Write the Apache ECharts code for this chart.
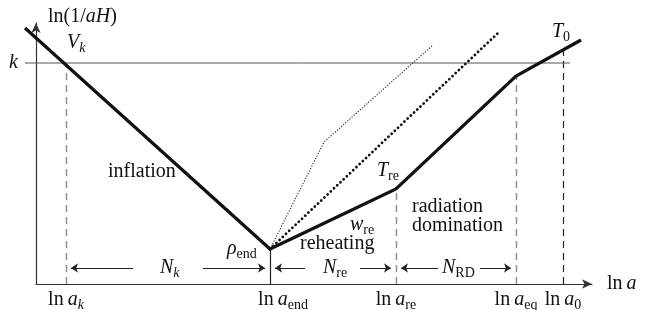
<!DOCTYPE html>
<html>
<head>
<meta charset="utf-8">
<script src="https://cdn.jsdelivr.net/npm/echarts@6/dist/echarts.min.js"></script>
<style>
  html, body { margin: 0; padding: 0; background: #fff; }
  #chart { width: 646px; height: 310px; }
</style>
</head>
<body>
<div id="chart"></div>
<script>
// schematic units (arbitrary e-folds)
const mainX = [-1.1, 23.4, 36.0, 48.0, 54.5];
const mainY = [25.6, 3.5, 9.5, 20.8, 24.4];
const stiffX = [23.4, 46.2];
const stiffY = [3.5, 25.1];
const thinX = [23.4, 28.8, 39.7];
const thinY = [3.5, 14.2, 23.9];
const kLevel = 22.1;
const kSpan = [-1.1, 53.4];

const tickX = [3.0, 23.4, 36.0, 48.0, 52.7];
const tickLabels = [
  '{n|ln\u2009}{i|a}{si|k}',
  '{pe|ln\u2009}{i|a}{s|end}',
  '{n|ln\u2009}{i|a}{s|re}',
  '{n|ln\u2009}{i|a}{s|eq}',
  '{n|ln\u2009}{i|a}{s|0}'
];
const dropTop = [22.1, 3.5, 9.5, 20.8, 23.4];

const spanFrom = [3.0, 23.4, 36.0];
const spanTo = [23.4, 36.0, 48.0];
const gapLeft = [9.7, 26.9, 40.2];
const gapRight = [16.7, 32.4, 44.4];
const spanY = 1.6;

const noteText = [
  '{n|ln(1/}{i|aH}{n|)}',
  '{i|V}{si|k}',
  '{n|inflation}',
  '{i|ρ}{s|end}',
  '{n|reheating}',
  '{i|w}{s|re}',
  '{i|T}{s|re}',
  '{n|radiation}',
  '{n|domination}',
  '{i|T}{s|0}',
  '{i|N}{si|k}',
  '{i|N}{s|re}',
  '{i|N}{s|RD}',
  '{n|ln\u2009}{i|a}'
];
const noteX = [1.2, 3.1, 7.2, 19.1, 26.4, 31.4, 34.1, 37.6, 37.6, 51.6, 12.4, 28.7, 40.6, 57.1];
const noteY = [26.7, 24.1, 11.2, 3.5, 4.0, 5.9, 11.3, 7.7, 5.8, 25.2, 1.6, 1.6, 1.6, 0];

const FONT = 'Liberation Serif';
const INK = '#111';
const rich = {
  n: { fontFamily: FONT, fontSize: 20, lineHeight: 24, color: INK },
  pe: { fontFamily: FONT, fontSize: 20, lineHeight: 24, color: INK, padding: [0, 0, 0, 26] },
  i: { fontFamily: FONT, fontSize: 20, lineHeight: 24, color: INK, fontStyle: 'italic' },
  s: { fontFamily: FONT, fontSize: 14, lineHeight: 14, color: INK, verticalAlign: 'bottom' },
  si: { fontFamily: FONT, fontSize: 14, lineHeight: 14, color: INK, verticalAlign: 'bottom', fontStyle: 'italic' }
};

function pairs(xs, ys) {
  return xs.map((x, i) => [x, ys[i]]);
}

const dropStyles = [
  { color: '#8c8c8c', width: 1.4, type: [7, 5], opacity: 1 },
  { color: '#222', width: 1.2, type: 'solid', opacity: 1 },
  { color: '#8c8c8c', width: 1.4, type: [7, 5], opacity: 1 },
  { color: '#8c8c8c', width: 1.4, type: [7, 5], opacity: 1 },
  { color: '#222', width: 1.2, type: [7, 5], opacity: 1 }
];
const drops = tickX.map((x, i) => ({
  coords: [[x, 0], [x, dropTop[i]]],
  lineStyle: dropStyles[i]
}));

const inset = 0.5;
const arrows = [];
spanFrom.forEach((a, i) => {
  arrows.push({ coords: [[gapLeft[i], spanY], [a + inset, spanY]] });
  arrows.push({ coords: [[gapRight[i], spanY], [spanTo[i] - inset, spanY]] });
});

// grid 0 carries the visible axes, grid 1 (same scale, wider to the left) carries the marks
const plot = { xAxisIndex: 1, yAxisIndex: 1, silent: true };

const chart = echarts.init(document.getElementById('chart'));
chart.setOption({
  backgroundColor: '#fff',
  animation: false,
  grid: [
    { left: 36, top: 23, right: 54, bottom: 26, containLabel: false, outerBoundsMode: 'none' },
    { left: 6, top: 23, right: 54, bottom: 26, containLabel: false, outerBoundsMode: 'none' }
  ],
  xAxis: [{
    gridIndex: 0, type: 'value', min: 0, max: 55.6,
    splitLine: { show: false },
    axisTick: { show: false },
    axisLine: { show: true, lineStyle: { color: '#333', width: 1.2 }, symbol: ['none', 'arrow'], symbolSize: [7, 10] },
    axisLabel: {
      customValues: tickX,
      margin: 4,
      formatter: v => tickLabels[tickX.indexOf(v)] || '',
      rich: rich
    }
  }, {
    gridIndex: 1, type: 'value', min: -3, max: 55.6, show: false
  }],
  yAxis: [{
    gridIndex: 0, type: 'value', min: 0, max: 26.1,
    splitLine: { show: false },
    axisTick: { show: false },
    axisLine: { show: true, lineStyle: { color: '#333', width: 1.2 }, symbol: ['none', 'arrow'], symbolSize: [7, 10] },
    axisLabel: {
      customValues: [kLevel],
      margin: 18,
      formatter: () => '{i|k}',
      rich: rich
    }
  }, {
    gridIndex: 1, type: 'value', min: 0, max: 26.1, show: false
  }],
  series: [
    Object.assign({
      type: 'line', data: [[kSpan[0], kLevel], [kSpan[1], kLevel]],
      clip: false, symbol: 'none',
      lineStyle: { color: '#555', width: 1 }
    }, plot),
    Object.assign({
      type: 'lines', coordinateSystem: 'cartesian2d', data: drops
    }, plot),
    Object.assign({
      type: 'lines', coordinateSystem: 'cartesian2d', data: arrows,
      symbol: ['none', 'arrow'], symbolSize: 7,
      lineStyle: { color: '#222', width: 1, opacity: 1 }
    }, plot),
    Object.assign({
      type: 'line', data: pairs(thinX, thinY), clip: false, symbol: 'none',
      lineStyle: { color: '#222', width: 1.1, type: [1.2, 1.6] }
    }, plot),
    Object.assign({
      type: 'line', data: pairs(stiffX, stiffY), clip: false, symbol: 'none',
      lineStyle: { color: '#111', width: 2.8, type: [0.01, 4.4], cap: 'round' }
    }, plot),
    Object.assign({
      type: 'line', data: pairs(mainX, mainY), clip: false, symbol: 'none',
      lineStyle: { color: '#111', width: 3.2, join: 'miter' }
    }, plot),
    Object.assign({
      type: 'scatter', clip: false, symbolSize: 0,
      itemStyle: { opacity: 1 },
      data: noteText.map((t, i) => ({ name: t, value: [noteX[i], noteY[i]] })),
      label: {
        show: true, position: [0, 0], align: 'left', verticalAlign: 'middle',
        formatter: p => p.name,
        rich: rich
      }
    }, plot)
  ]
});
</script>
</body>
</html>
